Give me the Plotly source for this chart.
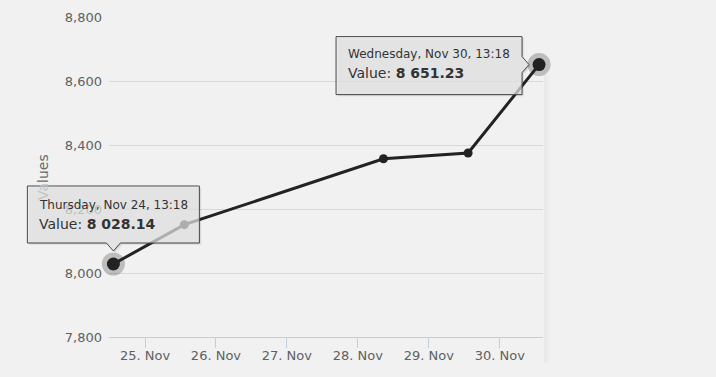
import pandas as pd
import plotly.graph_objects as go

# ---- data ----
dates = ["2016-11-24 13:18", "2016-11-25 13:18", "2016-11-28 08:40",
         "2016-11-29 13:18", "2016-11-30 13:18"]
values = [8028.14, 8151, 8357, 8375, 8651.23]
hover_idx = [0, 4]

tick_dates = ["2016-11-25", "2016-11-26", "2016-11-27",
              "2016-11-28", "2016-11-29", "2016-11-30"]
tick_labels = ["25. Nov", "26. Nov", "27. Nov", "28. Nov", "29. Nov", "30. Nov"]
y_ticks = [7800, 8000, 8200, 8400, 8600, 8800]
y_tick_labels = ["7,800", "8,000", "8,200", "8,400", "8,600", "8,800"]

tooltip_dates = ["Thursday, Nov 24, 13:18", "Wednesday, Nov 30, 13:18"]
tooltip_values = ["8 028.14", "8 651.23"]

x_range = ["2016-11-24 11:49", "2016-11-30 14:38"]
y_range = [7800, 8800]

BG = "#f1f1f1"
LINE = "#222222"
FONT = "DejaVu Sans"

fig = go.Figure()

# halo of hovered points
fig.add_trace(go.Scatter(
    x=[dates[i] for i in hover_idx], y=[values[i] for i in hover_idx],
    mode="markers", marker=dict(size=23, color="rgba(34,34,34,0.25)"),
    cliponaxis=False, hoverinfo="skip", showlegend=False))

# main line
fig.add_trace(go.Scatter(
    x=dates, y=values, mode="lines+markers",
    line=dict(color=LINE, width=3),
    marker=dict(size=9, color=LINE),
    cliponaxis=False, showlegend=False))

# hovered markers (bigger)
fig.add_trace(go.Scatter(
    x=[dates[i] for i in hover_idx], y=[values[i] for i in hover_idx],
    mode="markers", marker=dict(size=13, color=LINE),
    cliponaxis=False, hoverinfo="skip", showlegend=False))

t0, t1 = pd.Timestamp(x_range[0]), pd.Timestamp(x_range[1])


def x_frac(d):
    return (pd.Timestamp(d) - t0) / (t1 - t0)


def y_frac(v):
    return (v - y_range[0]) / (y_range[1] - y_range[0])


# ---- tooltips (paths in pixels, anchored on the data points) ----
tip_paths = [
    "M -86,78 L 86,78 L 86,21 L 7,21 L 0,13 L -7,21 L -86,21 Z",
    "M -203,28 L -17,28 L -17,8 L -10,0 L -17,-8 L -17,-30 L -203,-30 Z",
]
shapes = []
annotations = []
text_pos = [(-76, 59, 40), (-193, 11, -8)]
for k, i in enumerate(hover_idx):
    for off, a in [(2, 0.06), (1, 0.10)]:
        toks = tip_paths[k].split()
        out = []
        for t in toks:
            if "," in t:
                xs, ys = t.split(",")
                out.append(f"{float(xs)+off},{float(ys)-off}")
            else:
                out.append(t)
        shapes.append(dict(type="path", path=" ".join(out),
                           xref="x domain", yref="y domain",
                           xsizemode="pixel", ysizemode="pixel",
                           xanchor=x_frac(dates[i]), yanchor=y_frac(values[i]),
                           fillcolor=f"rgba(0,0,0,{a})", line=dict(width=0),
                           layer="above"))
    shapes.append(dict(type="path", path=tip_paths[k],
                       xref="x domain", yref="y domain",
                       xsizemode="pixel", ysizemode="pixel",
                       xanchor=x_frac(dates[i]), yanchor=y_frac(values[i]),
                       fillcolor="rgba(236,236,236,0.7)",
                       line=dict(color="#4a4a4a", width=1),
                       layer="above"))
    dx, y1, y2 = text_pos[k]
    annotations.append(dict(x=dates[i], y=values[i], xref="x", yref="y",
                            xshift=dx, yshift=y1, xanchor="left", yanchor="middle",
                            showarrow=False, text=tooltip_dates[k],
                            font=dict(family=FONT, size=12, color="#333333")))
    annotations.append(dict(x=dates[i], y=values[i], xref="x", yref="y",
                            xshift=dx, yshift=y2, xanchor="left", yanchor="middle",
                            showarrow=False,
                            text=f"Value: <b>{tooltip_values[k]}</b>",
                            font=dict(family=FONT, size=14, color="#333333")))

# subtle plot-area shadow on the right edge
for j, a in enumerate([0.035, 0.022, 0.012]):
    shapes.append(dict(type="rect", xref="paper", yref="paper",
                       xsizemode="pixel", xanchor=1, x0=1 + 2 * j, x1=3 + 2 * j,
                       y0=-0.08, y1=0.82, fillcolor=f"rgba(0,0,0,{a})",
                       line=dict(width=0), layer="below"))

# y-axis title (partly under the first tooltip)
annotations.append(dict(xref="paper", yref="paper", x=0, y=0.5, xshift=-66,
                        textangle=-90, showarrow=False,
                        xanchor="center", yanchor="middle",
                        text='<span style="color:#c4c4c4">Va</span>lues',
                        font=dict(family=FONT, size=14, color="#6a6a6a")))

fig.update_layout(
    width=716, height=377,
    margin=dict(l=109, r=173, t=17, b=40),
    paper_bgcolor=BG, plot_bgcolor=BG,
    font=dict(family=FONT, size=13, color="#606060"),
    shapes=shapes, annotations=annotations,
    xaxis=dict(type="date", range=x_range, tickvals=tick_dates, ticktext=tick_labels,
               showgrid=False, zeroline=False, showline=True, linecolor="#c0d0e0",
               linewidth=1, ticks="outside", ticklen=10, tickcolor="#c0d0e0",
               automargin=False, ticklabelstandoff=-4,
               tickfont=dict(family=FONT, size=13, color="#606060")),
    yaxis=dict(range=y_range, tickvals=y_ticks, ticktext=y_tick_labels,
               showgrid=True, gridcolor="#d8d8d8", gridwidth=1, zeroline=False,
               showline=False, ticks="", ticklabelstandoff=6, automargin=False,
               tickfont=dict(family=FONT, size=13, color="#606060")),
    showlegend=False,
)

fig.write_html("out.html",
               config={"displayModeBar": False},
               post_script="document.body.style.margin='0';"
                           "document.body.style.background='%s';" % BG)
